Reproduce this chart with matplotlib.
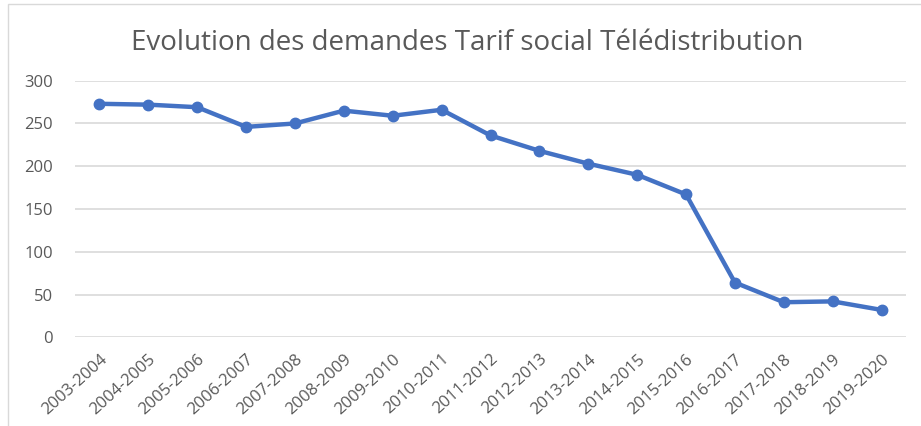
import matplotlib.pyplot as plt
import matplotlib.ticker as ticker
from matplotlib.patches import Rectangle

plt.rcParams['font.family'] = ['Open Sans', 'DejaVu Sans']

periodes = ['2003-2004', '2004-2005', '2005-2006', '2006-2007', '2007-2008',
            '2008-2009', '2009-2010', '2010-2011', '2011-2012', '2012-2013',
            '2013-2014', '2014-2015', '2015-2016', '2016-2017', '2017-2018',
            '2018-2019', '2019-2020']
demandes = [273, 272, 269, 246, 250, 265, 259, 266, 236, 218, 203, 190, 167,
            64, 41, 42, 32]

fig = plt.figure(figsize=(9.21, 4.26), dpi=100)
ax = fig.add_axes([75 / 921, 1 - 337.3 / 426, 831 / 921, 256.6 / 426])

x = range(len(periodes))
ax.plot(x, demandes, color='#4472C4', lw=3.2, marker='o', markersize=7.5)

ax.set_xlim(-0.5, len(periodes) - 0.5)
ax.set_ylim(0, 300)
ax.yaxis.set_major_locator(ticker.MultipleLocator(50))
ax.set_xticks(list(x))
ax.set_xticklabels(periodes, rotation=42, ha='right', rotation_mode='anchor')

ax.grid(axis='y', color='#d9d9d9', lw=1.2)
ax.set_axisbelow(True)
for s in ax.spines.values():
    s.set_visible(False)
ax.tick_params(length=0, colors='#595959', labelsize=12)
ax.tick_params(axis='y', pad=16)
ax.tick_params(axis='x', pad=10)

fig.text(467 / 921, 1 - 43 / 426, 'Evolution des demandes Tarif social Télédistribution',
         ha='center', va='center', fontsize=20, color='#595959')

# cadre du graphique
fig.patches.append(Rectangle((8 / 921, -0.05), 1.1, 1.04, transform=fig.transFigure,
                             fill=False, edgecolor='#d9d9d9', lw=1))

fig.savefig('out.png', dpi=100)
